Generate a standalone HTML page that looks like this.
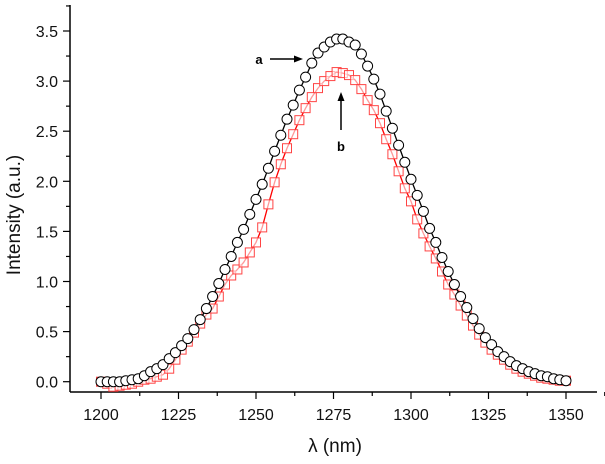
<!DOCTYPE html>
<html><head><meta charset="utf-8"><style>
html,body{margin:0;padding:0;background:#fff;}
svg{display:block;font-family:"Liberation Sans",Arial,sans-serif;}
</style></head><body>
<svg id="chart" width="605" height="464" viewBox="0 0 605 464">
<g id="axes"></g><g id="series"></g><g id="annot"></g>
</svg>
<script>
const wavelengths = [];
for (let w = 1200; w <= 1350; w += 2) wavelengths.push(w);
const seriesA = [0,0,0,0,0.01,0.02,0.03,0.06,0.10,0.13,0.17,0.23,0.29,0.36,0.43,0.52,0.62,0.73,0.85,0.98,1.12,1.25,1.39,1.52,1.67,1.82,1.97,2.13,2.30,2.46,2.62,2.76,2.91,3.04,3.18,3.28,3.34,3.39,3.42,3.42,3.39,3.36,3.27,3.15,3.02,2.87,2.70,2.53,2.36,2.19,2.02,1.86,1.70,1.53,1.39,1.24,1.10,0.97,0.85,0.74,0.63,0.53,0.44,0.37,0.30,0.25,0.20,0.16,0.13,0.10,0.08,0.06,0.05,0.03,0.02,0.01];
const seriesB = [0,-0.02,-0.05,-0.04,-0.03,-0.02,0.00,0.02,0.03,0.05,0.07,0.13,0.22,0.32,0.40,0.49,0.58,0.67,0.73,0.85,0.97,1.06,1.12,1.19,1.29,1.39,1.54,1.77,1.99,2.17,2.33,2.47,2.61,2.73,2.84,2.93,3.00,3.05,3.09,3.08,3.06,3.01,2.92,2.81,2.71,2.58,2.42,2.27,2.10,1.93,1.80,1.62,1.48,1.35,1.23,1.10,0.97,0.87,0.76,0.66,0.56,0.47,0.39,0.32,0.27,0.22,0.17,0.13,0.10,0.08,0.06,0.04,0.03,0.02,0.01,0.01];
const xTicks = [1200,1225,1250,1275,1300,1325,1350];
const yTicks = [0,0.5,1.0,1.5,2.0,2.5,3.0,3.5];

const NS = "http://www.w3.org/2000/svg";
const X = v => 101 + (v - 1200) * 3.1;
const Y = v => 381.7 - v * 100.2;
function mk(tag, attrs, parent, text) {
  const e = document.createElementNS(NS, tag);
  for (const k in attrs) e.setAttribute(k, attrs[k]);
  if (text !== undefined) e.textContent = text;
  parent.appendChild(e); return e;
}
const axes = document.getElementById('axes');
const series = document.getElementById('series');
const annot = document.getElementById('annot');

let el = mk('line', {x1:70,y1:5,x2:70,y2:392,stroke:'#000','stroke-width':1.5}, axes);


el = mk('line', {x1:70,y1:392,x2:597,y2:392,stroke:'#000','stroke-width':1.5}, axes);



for (let v = 0; v <= 3.75; v += 0.25) {
  const major = Math.abs(v*2 - Math.round(v*2)) < 1e-6;
  el = mk('line', {x1:70,x2:major?63:66,y1:Y(v),y2:Y(v),stroke:'#000','stroke-width':1.2}, axes);
  
  
}
yTicks.forEach(v => {
  el = mk('text', {x:58,y:Y(v)+6,'text-anchor':'end','font-size':16,fill:'#111'}, axes, v.toFixed(1));
  
  
});
for (let v = 1200; v <= 1362.5; v += 12.5) {
  const major = (v % 25) === 0;
  el = mk('line', {x1:X(v),x2:X(v),y1:392,y2:major?399:396,stroke:'#000','stroke-width':1.2}, axes);
  
  
}
xTicks.forEach(v => {
  el = mk('text', {x:X(v),y:420,'text-anchor':'middle','font-size':16,fill:'#111'}, axes, String(v));
  
  
});
el = mk('text', {x:335,y:452,'text-anchor':'middle','font-size':19,fill:'#111'}, axes, 'λ (nm)');


el = mk('text', {x:0,y:0,transform:'translate(20,215) rotate(-90)','text-anchor':'middle','font-size':19,fill:'#111'}, axes, 'Intensity (a.u.)');



el = mk('polyline', {points: wavelengths.map((w,i)=>X(w)+','+Y(seriesB[i])).join(' '), fill:'none', stroke:'#f00','stroke-width':1.3}, series);


wavelengths.forEach((w,i) => {
  const r = mk('rect', {x:X(w)-4.5,y:Y(seriesB[i])-4.5,width:9,height:9,fill:'#fff','fill-opacity':0.6,stroke:'#f44','stroke-width':1}, series);
  
  
});
el = mk('polyline', {points: wavelengths.map((w,i)=>X(w)+','+Y(seriesA[i])).join(' '), fill:'none', stroke:'#000','stroke-width':1.3}, series);


wavelengths.forEach((w,i) => {
  const c = mk('circle', {cx:X(w),cy:Y(seriesA[i]),r:5,fill:'#fff',stroke:'#000','stroke-width':1}, series);
  
  
});

el = mk('text', {x:259,y:64,'text-anchor':'middle','font-size':13,'font-weight':'bold'}, annot, 'a');


el = mk('line', {x1:270,y1:59,x2:296,y2:59,stroke:'#000','stroke-width':1.5}, annot);


el = mk('polygon', {points:'303,59 294,55.5 294,62.5',fill:'#000'}, annot);


el = mk('text', {x:341,y:151,'text-anchor':'middle','font-size':13,'font-weight':'bold'}, annot, 'b');


el = mk('line', {x1:341,y1:130,x2:341,y2:99,stroke:'#000','stroke-width':1.5}, annot);


el = mk('polygon', {points:'341,92 337.5,101 344.5,101',fill:'#000'}, annot);


</script>
</body></html>
